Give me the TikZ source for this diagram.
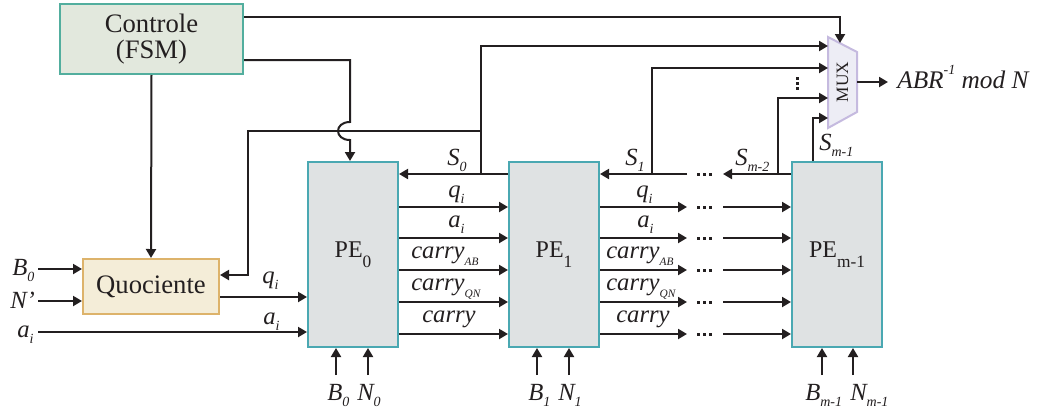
\documentclass[tikz,border=0pt]{standalone}
\usepackage{fontspec}
\setmainfont{Liberation Serif}
\usetikzlibrary{arrows.meta}
\definecolor{wirec}{HTML}{231F20}
\definecolor{ctrlfill}{HTML}{E2E8DD}
\definecolor{ctrldraw}{HTML}{52AE9E}
\definecolor{quocfill}{HTML}{F4EDD8}
\definecolor{quocdraw}{HTML}{DDB36B}
\definecolor{pefill}{HTML}{DFE2E3}
\definecolor{pedraw}{HTML}{4AA8B2}
\definecolor{muxfill}{HTML}{EDEDF5}
\definecolor{muxdraw}{HTML}{C5BADF}
\newcommand{\lblfont}{\fontsize{18.5}{21}\selectfont\itshape}
\newcommand{\boxfont}{\fontsize{20}{19.5}\selectfont}
\newcommand{\sbs}[1]{\raisebox{-0.28em}{\fontsize{10.5}{10.5}\selectfont\itshape #1}}
\newcommand{\ssbs}[1]{\raisebox{-0.3em}{\fontsize{8.5}{8.5}\selectfont\itshape #1}}
\newcommand{\sps}[1]{\raisebox{0.55em}{\fontsize{10.5}{10.5}\selectfont\itshape #1}}
\newcommand{\pesub}[1]{\raisebox{-0.42em}{\fontsize{13}{13}\selectfont #1}}
\begin{document}
\begin{tikzpicture}[x=0.75pt,y=-0.75pt,
  wire/.style={draw=wirec,line width=1.5pt},
  arr/.style={wire,-{Triangle[length=6.75pt,width=7.5pt]}},
  blk/.style={draw,line width=1.5pt,inner sep=0pt,text=wirec},
  ctrlbox/.style={blk,fill=ctrlfill,draw=ctrldraw,minimum width=137.25pt,minimum height=52.5pt,align=center,font=\boxfont},
  quocbox/.style={blk,fill=quocfill,draw=quocdraw,minimum width=102pt,minimum height=41.25pt,font=\boxfont},
  pebox/.style={blk,fill=pefill,draw=pedraw,minimum width=67.5pt,minimum height=138.75pt,font=\fontsize{18}{20}\selectfont},
  lbl/.style={font=\lblfont,text=wirec,inner sep=0pt,anchor=base west},
  dotm/.style={fill=wirec}
]
\useasboundingbox (0,0) rectangle (1040,411);

% blocks
\node[ctrlbox] (ctrl) at (151.5,39) {Controle\\(FSM)};
\node[quocbox] (quoc) at (151,286.5) {Quociente};
\node[pebox] (pe0) at (353,254.5) {PE\pesub{0}};
\node[pebox] (pe1) at (554,254.5) {PE\pesub{1}};
\node[pebox] (pem) at (837,254.5) {PE\pesub{m-1}};

% MUX
\draw[line width=1.5pt,draw=muxdraw,fill=muxfill] (828,37) -- (857,52) -- (857,112) -- (828,128) -- cycle;
\node[rotate=90,inner sep=0pt,text=wirec,font=\fontsize{13}{14}\selectfont] (mux) at (842.5,82) {MUX};
\coordinate (muxtop) at (840,43);
\coordinate (mi0) at (828,46);
\coordinate (mi1) at (828,68);
\coordinate (mi2) at (828,98);
\coordinate (mi3) at (828,118);
\coordinate (mo) at (857,82);
\foreach \yy in {78.5,83.5,88.5}{\fill[dotm] (795.5,\yy-1.5) rectangle (798.5,\yy+1.5);}

% control wires
\draw[arr] (ctrl.east |- 0,17) -| (muxtop);
\coordinate (j1) at (350,122);
\coordinate (j2) at (350,140);
\draw[arr] (ctrl.east |- 0,60) -| (j1) .. controls (334,122) and (334,140) .. (j2) -- (pe0.north -| j2);
\draw[arr] (ctrl.south) -- (quoc.north);

% S0 and feedback to Quociente
\coordinate (s0b) at (481,174);
\coordinate (s0m) at (481,131);
\coordinate (fbc) at (248,131);
\draw[arr] (pe1.west |- s0b) -- (pe0.east |- s0b);
\draw[arr] (s0b) |- (mi0);
\draw[arr] (s0m) -- (fbc) |- (quoc.east |- 0,275);

% S1
\coordinate (s1e) at (687,174);
\coordinate (s1b) at (652,174);
\draw[arr] (s1e) -- (pe1.east |- s1e);
\draw[arr] (s1b) |- (mi1);
% S m-2
\coordinate (s2e) at (723,174);
\coordinate (s2b) at (778,174);
\draw[arr] (pem.west |- s2e) -- (s2e);
\draw[arr] (s2b) |- (mi2);
% S m-1
\draw[arr] (pem.north -| 813,0) |- (mi3);
% output
\coordinate (oute) at (888,82);
\draw[arr] (mo) -- (oute);
\node[lbl,font=\fontsize{19}{21}\selectfont\itshape] (abr) at (897,88) {ABR\sps{-1} mod N};

% left inputs
\node[lbl] (lb0) at (12,275) {B\sbs{0}};
\node[lbl] (lnp) at (10,308) {N’};
\node[lbl] (lai) at (17,337) {a\sbs{i}};
\draw[arr] (38,269) -- (quoc.west |- 0,269);
\draw[arr] (38,301) -- (quoc.west |- 0,301);
\draw[arr] (38,332) -- (pe0.west |- 0,332);
\draw[arr] (quoc.east |- 0,297) -- (pe0.west |- 0,297);
\node[lbl] (lq) at (262,283) {q\sbs{i}};
\node[lbl] (la) at (263,324) {a\sbs{i}};

% data buses
\foreach \y in {174,207,238,270,302,334}{
  \foreach \xx in {698.5,704.5,710.5}{\fill[dotm] (\xx-1.5,\y-1.5) rectangle (\xx+1.5,\y+1.5);}
}
\foreach \y in {207,238,270,302,334}{
  \draw[arr] (pe0.east |- 0,\y) -- (pe1.west |- 0,\y);
  \draw[arr] (pe1.east |- 0,\y) -- (687,\y);
  \draw[arr] (723,\y) -- (pem.west |- 0,\y);
}

% bus labels
\node[lbl] (ls0) at (447,165) {S\sbs{0}};
\node[lbl] (lq0) at (448,197) {q\sbs{i}};
\node[lbl] (la0) at (448,227) {a\sbs{i}};
\node[lbl] (lab0) at (411,258) {carry\ssbs{AB}};
\node[lbl] (lqn0) at (411,290) {carry\ssbs{QN}};
\node[lbl] (lc0) at (422,322) {carry};
\node[lbl] (ls1) at (625,165) {S\sbs{1}};
\node[lbl] (lq1) at (636,197) {q\sbs{i}};
\node[lbl] (la1) at (637,227) {a\sbs{i}};
\node[lbl] (lab1) at (606,258) {carry\ssbs{AB}};
\node[lbl] (lqn1) at (606,290) {carry\ssbs{QN}};
\node[lbl] (lc1) at (616,322) {carry};
\node[lbl] (ls2) at (735,165) {S\sbs{m-2}};
\node[lbl] (ls3) at (819,150) {S\sbs{m-1}};

% bottom inputs
\foreach \x/\n in {336/pe0,368/pe0,537/pe1,569/pe1,822/pem,853/pem}{
  \draw[arr] (\x,375) -- (\n.south -| \x,0);
}
\node[lbl] (lb0b) at (327,400) {B\sbs{0}};
\node[lbl] (ln0b) at (357,400) {N\sbs{0}};
\node[lbl] (lb1b) at (528,400) {B\sbs{1}};
\node[lbl] (ln1b) at (558,400) {N\sbs{1}};
\node[lbl] (lbmb) at (805,400) {B\sbs{m-1}};
\node[lbl] (lnmb) at (850,400) {N\sbs{m-1}};
\end{tikzpicture}
\end{document}
